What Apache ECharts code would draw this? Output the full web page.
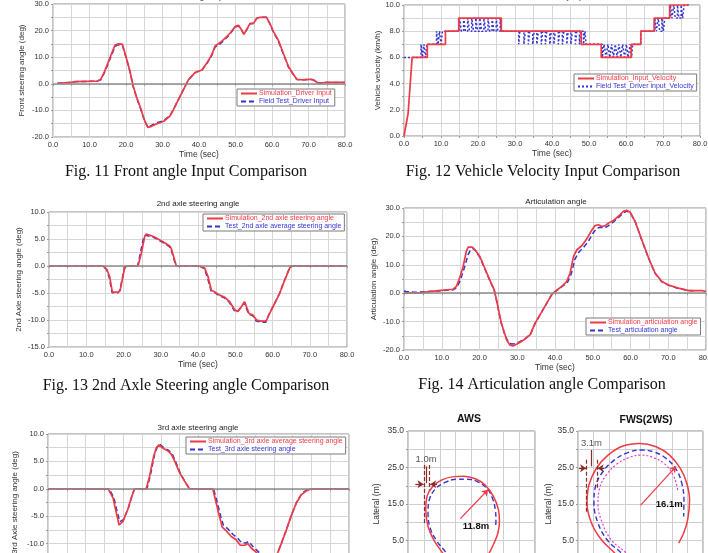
<!DOCTYPE html>
<html>
<head>
<meta charset="utf-8">
<script src="https://cdn.jsdelivr.net/npm/echarts@6/dist/echarts.min.js"></script>
<style>
html, body { margin: 0; padding: 0; background: #fff; overflow: hidden; }
#main { width: 708px; height: 553px; }
</style>
</head>
<body>
<div id="main"></div>
<script>
// Fig.11 front steering input [time, deg]
var frontSim = [[1.2,0.2],[5,0.5],[6,0.8],[12,1.0],[13,1.5],[14,4.2],[15,7.7],[16,11.2],[17,14.6],[17.5,15.2],[18,15.0],[19,14.9],[20,10.2],[21,5.2],[22,-1.0],[23,-5.4],[24,-9.1],[25,-13.5],[26,-16.4],[27,-16.0],[28,-15.3],[30.3,-14.1],[32,-12.2],[33,-9.7],[34.8,-4.7],[37.1,1.5],[38.9,4.2],[40.8,5.2],[42.1,7.7],[43.5,10.9],[44.4,14.2],[45.8,15.5],[47.1,17.1],[48.5,19.0],[49.9,21.5],[50.8,22.0],[51.7,20.2],[52.3,18.6],[53.1,20.5],[54,22.7],[54.9,22.7],[55.8,24.6],[56.7,25.0],[58.5,25.0],[59.4,22.7],[60.4,19.6],[61.7,16.5],[63.1,11.5],[64.5,6.5],[65.8,3.7],[66.8,1.7],[68.5,1.5],[70.4,1.7],[71.3,1.5],[72.7,0.2],[75,0.5],[80,0.5]];
var frontTest = [[1.2,0.2],[5,0.5],[6,0.8],[12,1.0],[13,1.4],[14,3.9],[15,7.2],[16,10.6],[17,14.0],[17.6,14.6],[18.2,14.6],[19,14.5],[20,10.0],[21,5.0],[22,-1.2],[23,-5.6],[24,-9.4],[25,-13.7],[26,-16.3],[27,-15.6],[28,-14.9],[30.3,-13.8],[32,-12.0],[33,-9.6],[34.8,-4.7],[37.1,1.5],[38.9,4.2],[40.8,5.2],[42.1,7.5],[43.5,10.6],[44.4,13.8],[45.8,15.0],[47.1,16.7],[48.5,18.7],[49.9,21.3],[50.8,21.8],[51.7,20.1],[52.3,18.6],[53.1,20.4],[54,22.6],[54.9,22.7],[55.8,24.6],[56.7,25.0],[58.5,25.0],[59.4,22.6],[60.4,19.4],[61.7,16.2],[63.1,11.2],[64.5,6.3],[65.8,3.6],[66.8,1.6],[68.5,1.5],[70.4,1.7],[71.3,1.5],[72.7,0.2],[75,0.5],[80,0.5]];

// Fig.12 vehicle velocity [time, km/h]
var velSim = [[0,0],[1.1,1.7],[2.2,6],[6.3,6],[6.3,7],[11.2,7],[11.2,8],[14.8,8],[14.8,9],[26.3,9],[26.3,8],[47.9,8],[47.9,7],[53.3,7],[53.3,6],[61.4,6],[61.4,7],[64,7],[64,8],[67.6,8],[67.6,9],[71.8,9],[71.8,10],[76.8,10]];
// test signal: [switch time, new level]
var velTest = [[0,6],[4.6,7],[5.0,6],[5.4,7],[5.8,6],[6.2,7],
  [8.8,8],[9.2,7],[9.6,8],[10.0,7],[10.4,8],
  [15.0,9],[15.5,8],[16.1,9],[16.6,8],[17.2,9],[17.7,8],[18.3,9],[18.8,8],[19.4,9],[19.9,8],[20.5,9],[21.0,8],[21.6,9],[22.1,8],[22.7,9],[23.2,8],[23.8,9],[24.3,8],[24.9,9],[25.4,8],[26.0,9],[26.3,8],
  [31.0,7],[31.3,8],[32.4,7],[32.8,8],[33.6,7],[34.0,8],[34.8,7],[35.2,8],[35.9,7],[36.3,8],[37.1,7],[37.5,8],[38.2,7],[38.6,8],[39.4,7],[39.8,8],[40.5,7],[40.9,8],[41.7,7],[42.1,8],[42.8,7],[43.2,8],[44.0,7],[44.4,8],[45.1,7],[45.5,8],[46.3,7],[46.7,8],[47.4,7],[47.8,8],[48.5,7],[48.9,8],[49.2,7],
  [53.6,6],[54.1,7],[54.6,6],[55.1,7],[55.6,6],[56.1,7],[56.6,6],[57.1,7],[57.6,6],[58.1,7],[58.6,6],[59.1,7],[59.6,6],[60.1,7],[60.6,6],[61.1,7],[61.5,6],[61.8,7],
  [64.0,8],[67.8,9],[68.2,8],[68.7,9],[69.1,8],[69.7,9],[70.1,8],[70.5,9],
  [72.0,10],[72.4,9],[72.9,10],[73.3,9],[73.9,10],[74.3,9],[74.9,10],[75.3,9],[75.7,10],[77.0,10]];

// Fig.13 2nd axle steering angle
var ax2Sim = [[0,0],[14.5,0],[15.5,-0.6],[16.3,-2],[17,-4.8],[18.5,-4.9],[19.1,-4.5],[20.3,-0.4],[20.8,0],[23.9,0],[24.8,2.4],[25.7,5.5],[26.1,5.9],[27.9,5.5],[30.6,4.5],[32.4,3.7],[32.8,3.3],[34.2,0],[40.4,0],[41.8,-0.4],[42.7,-2],[43.6,-4.5],[44.5,-4.8],[45.8,-5.4],[47.2,-5.8],[48.5,-6.6],[49.8,-8.1],[50.7,-8.4],[51.6,-7.6],[52.5,-6.6],[53.7,-8.8],[54.8,-9.1],[55.7,-10],[57,-10.2],[58.3,-10.2],[59.2,-8.8],[60.6,-6.9],[61.9,-5.1],[63.3,-2.6],[64.6,-0.4],[65,0],[80,0]];
var ax2Test = [[0,0],[14.5,0],[15.4,-0.6],[16.2,-2.2],[16.9,-4.9],[18.4,-5.0],[19.0,-4.6],[20.2,-0.5],[20.7,0],[23.8,0],[24.6,2.6],[25.4,5.3],[25.9,5.7],[27.8,5.4],[30.5,4.4],[32.3,3.6],[32.7,3.2],[34.1,0],[40.4,0],[41.7,-0.5],[42.6,-2.3],[43.5,-4.6],[44.4,-4.9],[45.7,-5.5],[47.1,-5.9],[48.4,-6.7],[49.7,-8.2],[50.6,-8.5],[51.5,-7.7],[52.4,-6.8],[53.6,-8.9],[54.7,-9.2],[55.6,-10.2],[56.9,-10.4],[58.2,-10.4],[59.1,-8.9],[60.5,-7.0],[61.8,-5.2],[63.2,-2.7],[64.5,-0.5],[64.9,0],[80,0]];

// Fig.14 articulation angle
var artSim = [[0,0],[0.5,0.1],[4.6,0.2],[9,0.9],[13,1.4],[13.9,2.4],[14.8,5.6],[15.7,9.6],[16.5,14.7],[17,16.2],[17.4,16.7],[18.1,16.2],[18.8,15.3],[20.1,12.9],[21.4,8.8],[22.7,4.7],[23.9,1.2],[24.5,-2.4],[25.8,-10.6],[27.2,-16.5],[28,-18.2],[28.9,-18.6],[30.3,-17.6],[32,-16.2],[33.4,-14.7],[34.7,-10.6],[36.5,-6.5],[37.8,-3.5],[39.1,-0.6],[40,0.6],[41.8,2.4],[43.1,4.1],[44,7.1],[44.9,12.9],[45.8,15.3],[47.1,16.7],[48.4,19.1],[49.7,22.1],[50.6,23.8],[51.5,24.1],[52.4,23.5],[53.3,23.8],[54.2,24.7],[55.5,25.6],[56.8,27.1],[58.1,28.8],[59,29.2],[59.9,28.5],[61.2,25.3],[63,18.8],[64.8,12.4],[66.5,7.1],[68.3,4.1],[70.1,2.9],[72.7,1.8],[75.4,0.9],[78.9,0.9],[80,0.6]];
var artTest = [[0,0.8],[0.6,0.6],[3,0.3],[9,0.8],[13,1.2],[14,2.0],[15,4.8],[16,9.0],[17,13.6],[17.6,15.2],[18.2,15.8],[18.8,15.2],[20.1,12.6],[21.4,8.6],[22.7,4.6],[23.9,1.0],[24.5,-2.4],[25.6,-9.8],[26.6,-14.2],[27.6,-17.2],[28.5,-17.9],[29.5,-17.8],[30.8,-17.0],[32.3,-15.8],[33.6,-14.3],[34.8,-10.4],[36.5,-6.6],[37.8,-3.6],[39.1,-0.5],[40,0.5],[41.8,2.3],[43.3,3.8],[44.3,6.8],[45.3,12.0],[46.3,14.4],[47.6,16.2],[48.8,18.2],[50.0,21.0],[51,22.8],[52,23.2],[53,22.9],[54,23.6],[55.2,24.8],[56.6,26.4],[58,28.2],[59,28.9],[60,28.2],[61.3,25.0],[63,18.6],[64.8,12.2],[66.5,7.0],[68.3,4.0],[70.1,2.8],[72.7,1.6],[75.4,1.0],[77.6,0.8]];

// Fig.15 3rd axle steering angle
var ax3Sim = [[0,0],[16,0],[17.3,-1.7],[18.2,-4.5],[18.9,-6.6],[19.2,-6.8],[19.9,-6.0],[21.3,-3.6],[22.1,-1.7],[23,0],[26.1,0],[27,2.3],[28.1,6.0],[28.8,7.5],[29.5,8.0],[30.6,7.4],[31.9,6.9],[32.8,6.3],[33.7,5.0],[35,2.9],[36.3,1.4],[37.6,0],[43.8,0],[44.7,-2.6],[45.6,-5.1],[46.3,-7.0],[47.4,-7.7],[48.7,-8.7],[50,-9.3],[51.1,-10.3],[52.3,-10.3],[53.1,-10.0],[54,-10.8],[55.4,-11.6],[56.2,-12.2],[57.5,-12.9],[58.8,-13.3],[60,-12.8],[61.1,-11.6],[62,-10.0],[63.3,-7.6],[64.7,-4.8],[66,-2.6],[67.3,-1.1],[68.6,-0.4],[70,0],[80,0]];
var ax3Test = [[0,0],[16.2,0],[17.5,-1.6],[18.4,-4.2],[19.1,-6.0],[19.5,-6.2],[20.1,-5.6],[21.4,-3.4],[22.2,-1.6],[23,0],[26.3,0],[27.2,2.4],[28.3,6.2],[29.1,7.7],[29.7,8.1],[30.8,7.5],[32.1,7.0],[33.0,6.4],[33.9,5.0],[35.2,2.8],[36.5,1.2],[37.6,0],[44.0,0],[45.0,-2.5],[45.9,-5.0],[46.6,-6.6],[47.8,-7.3],[49.1,-8.3],[50.4,-9.0],[51.5,-9.9],[52.5,-9.9],[53.4,-9.6],[54.4,-10.5],[55.8,-11.4],[56.6,-12.0],[57.9,-12.7],[59.1,-13.1],[60.2,-12.6],[61.2,-11.4],[62.1,-9.8],[63.4,-7.4],[64.8,-4.6],[66.1,-2.4],[67.4,-0.9],[68.7,-0.2],[70,0],[80,0]];

// turning paths [longitudinal m, lateral m]
var awsSim = [[12.5,0],[10.9,1.6],[8.1,5.2],[6.3,8.9],[5.6,13.4],[6.0,17.1],[7.8,19.8],[10.7,21.6],[14.4,22.5],[17.5,22.6],[21.2,21.9],[24.3,20.2],[26.9,17.1],[28.5,13.4],[28.8,10.2],[28.3,7.0],[26.9,3.9],[25.6,1.6],[24.2,-0.5]];
var awsTest = [[13.2,0],[11.7,2.0],[9.1,4.8],[7.0,8.4],[6.3,12.5],[6.7,16.1],[8.6,19.1],[11.7,20.9],[15.4,21.8],[18.6,21.8],[21.7,21.2],[24.8,19.3],[26.6,16.6],[27.5,13.4],[27.7,10.2],[27.5,8.4]];
var fwsSim = [[13.2,0],[11.7,1.6],[7.5,5.2],[4.3,9.8],[2.9,15.2],[3.5,20.2],[5.9,24.8],[9.6,28.4],[14.4,30.9],[19.7,31.6],[25.0,30.7],[29.3,28.4],[32.7,24.8],[34.8,20.7],[35.7,16.1],[35.1,10.7],[33.8,7.0],[32.2,4.3]];
var fwsTest = [[15.4,0],[13.8,1.6],[9.3,5.2],[6.4,9.8],[5.1,15.2],[5.6,19.8],[8.0,23.9],[11.7,27.1],[16.0,29.1],[20.2,29.8],[24.5,29.2],[28.2,27.5],[31.4,24.5],[33.2,20.7],[33.9,16.1],[33.8,11.6]];
var fwsDot = [[17.0,0],[15.4,1.6],[10.6,5.2],[7.8,9.8],[6.4,14.8],[6.9,19.3],[9.1,23.0],[12.5,26.0],[16.5,27.8],[20.2,28.4],[23.9,27.8],[27.7,26.0],[30.4,23.0],[31.7,19.8],[31.9,18.4]];

var FONT = '"Liberation Sans", Arial, sans-serif';
var RED = '#ee3a44', BLUE = '#3434d0', PINK = '#ee38c8', DIM = '#8e2a2a';

var myChart = echarts.init(document.getElementById('main'));

function fmt1(v) { return v.toFixed(1); }

function axis(gi, min, max, step, minor, extra) {
	var a = {
		type : 'value',
		gridIndex : gi,
		min : min,
		max : max,
		interval : step,
		axisLine : { show : false },
		axisTick : { show : true, length : 2, lineStyle : { color : '#999' } },
		axisLabel : { fontSize : 7.5, fontFamily : FONT, color : '#333', margin : 4, formatter : fmt1,
			hideOverlap : false },
		splitLine : { lineStyle : { color : '#d6d6d6' } },
		minorTick : { show : minor > 1, splitNumber : minor || 1, length : 2, lineStyle : { color : '#999' } },
		minorSplitLine : { show : minor > 1, lineStyle : { color : '#d6d6d6' } },
		nameLocation : 'middle',
		nameTextStyle : { fontSize : 8, fontFamily : FONT, color : '#333' }
	};
	for (var k in extra) a[k] = extra[k];
	return a;
}

function timeAxis(gi, gap) {
	return axis(gi, 0, 80, 10, 2, { name : 'Time (sec)', nameGap : gap,
		nameTextStyle : { fontSize : 8.5, fontFamily : FONT, color : '#333' } });
}

function grid(l, t, w, h) {
	return { left : l, top : t, width : w, height : h, show : true, outerBoundsMode : 'none',
		containLabel : false, borderColor : '#8a8a8a', borderWidth : 1, backgroundColor : '#fff' };
}

var zeroLine = {
	silent : true, symbol : [ 'none', 'none' ], animation : false,
	label : { show : false },
	lineStyle : { color : '#8c8c8c', width : 1.5, type : 'solid' },
	data : [ { yAxis : 0 } ]
};

function sim(name, data, gi, withZero) {
	var s = { name : name, type : 'line', data : data, xAxisIndex : gi, yAxisIndex : gi,
		showSymbol : false, symbol : 'none', z : 4,
		lineStyle : { color : RED, width : 1.7 }, itemStyle : { color : RED } };
	if (withZero) s.markLine = zeroLine;
	return s;
}
function test(name, data, gi, dash) {
	return { name : name, type : 'line', data : data, xAxisIndex : gi, yAxisIndex : gi,
		showSymbol : false, symbol : 'none', z : 3,
		lineStyle : { color : BLUE, width : 1.5, type : dash || [ 5, 3 ] }, itemStyle : { color : BLUE } };
}

function legendBox(names, left, top) {
	return {
		data : [ { name : names[0], textStyle : { color : RED } },
			{ name : names[1], textStyle : { color : BLUE } } ],
		orient : 'vertical', left : left, top : top,
		itemWidth : 16, itemHeight : 6, itemGap : 1,
		padding : [ 1, 3, 1, 3 ],
		itemStyle : { opacity : 0 },
		borderColor : '#7a7a7a', borderWidth : 1, backgroundColor : '#fff',
		textStyle : { fontSize : 7, fontFamily : FONT, padding : [ 0, 0, 0, -3 ] },
		selectedMode : false
	};
}

function txt(s, x, y, font, fill) {
	return { type : 'text', x : x, y : y, silent : true,
		style : { text : s, font : font, fill : fill || '#222', textAlign : 'center', textVerticalAlign : 'middle' } };
}

// dimension marks (data coords)
function seg(a, b, color, dash, arrow) {
	return [ { coord : a, symbol : 'none', lineStyle : { color : color, width : 1.2, type : dash } },
		{ coord : b, symbol : arrow ? 'arrow' : 'none', symbolSize : arrow ? 6 : 0 } ];
}

var SERIF = '16px "Liberation Serif", "Times New Roman", serif';
var SMALL = '8px ' + FONT;
var latLabel = { fontSize : 8.5, fontFamily : FONT, color : '#333', margin : 4, formatter : fmt1 };

option = {
	animation : false,
	backgroundColor : '#fff',
	grid : [ grid(53, 4, 292, 133), grid(404, 5, 296, 131), grid(49, 212, 298, 135),
		grid(404, 208, 302, 142), grid(48, 434, 301, 137), grid(408, 431, 127, 146),
		grid(578, 431, 125, 146) ],
	xAxis : [ timeAxis(0, 12), timeAxis(1, 12), timeAxis(2, 13), timeAxis(3, 13), timeAxis(4, 13),
		axis(5, 0, 40, 5, 0, { axisLabel : { show : false }, splitLine : { lineStyle : { color : '#cfcfcf' } } }),
		axis(6, 0, 40, 5, 0, { axisLabel : { show : false }, splitLine : { lineStyle : { color : '#cfcfcf' } } }) ],
	yAxis : [
		axis(0, -20, 30, 10, 2, { name : 'Front steering angle (deg)', nameGap : 27 }),
		axis(1, 0, 10, 2, 2, { name : 'Vehicle velocity (km/h)', nameGap : 21 }),
		axis(2, -15, 10, 5, 2, { name : '2nd Axle steering angle (deg)', nameGap : 26 }),
		axis(3, -20, 30, 10, 2, { name : 'Articulation angle (deg)', nameGap : 26 }),
		axis(4, -15, 10, 5, 2, { name : '3rd Axle steering angle (deg)', nameGap : 29 }),
		axis(5, -5, 35, 10, 2, { name : 'Lateral (m)', nameGap : 27, axisLabel : latLabel,
			nameTextStyle : { fontSize : 8.5, fontFamily : FONT, color : '#333' },
			splitLine : { lineStyle : { color : '#cfcfcf' } }, minorSplitLine : { show : true, lineStyle : { color : '#cfcfcf' } } }),
		axis(6, -5, 35, 10, 2, { name : 'Lateral (m)', nameGap : 23, axisLabel : latLabel,
			nameTextStyle : { fontSize : 8.5, fontFamily : FONT, color : '#333' },
			splitLine : { lineStyle : { color : '#cfcfcf' } }, minorSplitLine : { show : true, lineStyle : { color : '#cfcfcf' } } })
	],
	legend : [
		legendBox([ 'Simulation_Driver Input', 'Field Test_Driver Input' ], 237, 89),
		legendBox([ 'Simulation_Input_Velocity', 'Field Test_Driver input_Velocity' ], 574, 74),
		legendBox([ 'Simulation_2nd axle steering angle', 'Test_2nd axle average steering angle' ], 203, 214),
		legendBox([ 'Simulation_articulation angle', 'Test_articulation angle' ], 586, 318),
		legendBox([ 'Simulation_3rd axle average steering angle', 'Test_3rd axle steering angle' ], 186, 437)
	],
	graphic : [
		txt('Front angle input', 200, -3, SMALL),
		txt('Vehicle velocity input', 553, -3, SMALL),
		txt('2nd axle steering angle', 198, 204, SMALL),
		txt('Articulation angle', 556, 202, SMALL),
		txt('3rd axle steering angle', 198, 428, SMALL),
		txt('AWS', 469, 419, 'bold 10.5px ' + FONT, '#111'),
		txt('FWS(2WS)', 646, 420, 'bold 10.5px ' + FONT, '#111'),
		txt('Fig. 11 Front angle Input Comparison', 186, 172, SERIF, '#111'),
		txt('Fig. 12 Vehicle Velocity Input Comparison', 543, 172, SERIF, '#111'),
		txt('Fig. 13 2nd Axle Steering angle Comparison', 186, 386, SERIF, '#111'),
		txt('Fig. 14 Articulation angle Comparison', 542, 385, SERIF, '#111')
	],
	series : [
		test('Field Test_Driver Input', frontTest, 0),
		sim('Simulation_Driver Input', frontSim, 0, true),
		test('Field Test_Driver input_Velocity', velTest, 1, [ 2, 2 ]),
		sim('Simulation_Input_Velocity', velSim, 1, false),
		test('Test_2nd axle average steering angle', ax2Test, 2),
		sim('Simulation_2nd axle steering angle', ax2Sim, 2, true),
		test('Test_articulation angle', artTest, 3),
		sim('Simulation_articulation angle', artSim, 3, true),
		test('Test_3rd axle steering angle', ax3Test, 4),
		sim('Simulation_3rd axle average steering angle', ax3Sim, 4, true),
		{
			name : 'AWS test', type : 'line', data : awsTest, xAxisIndex : 5, yAxisIndex : 5,
			showSymbol : false, symbol : 'none', smooth : 0.4,
			lineStyle : { color : BLUE, width : 1.4, type : [ 5, 3 ] }
		},
		{
			name : 'AWS sim', type : 'line', data : awsSim, xAxisIndex : 5, yAxisIndex : 5,
			showSymbol : false, symbol : 'none', smooth : 0.4,
			lineStyle : { color : RED, width : 1.5 },
			markLine : {
				silent : true, animation : false, label : { show : false },
				data : [
					seg([ 16.5, 11.0 ], [ 25.2, 18.9 ], RED, 'solid', true),
					seg([ 5.2, 25.7 ], [ 5.2, 9.3 ], DIM, [ 4, 2 ]),
					seg([ 6.7, 25.7 ], [ 6.7, 18.9 ], DIM, [ 4, 2 ]),
					seg([ 5.9, 25.3 ], [ 5.9, 20.7 ], DIM, 'solid'),
					seg([ 2.3, 20.4 ], [ 4.9, 20.4 ], DIM, 'solid', true),
					seg([ 9.1, 20.4 ], [ 7.0, 20.4 ], DIM, 'solid', true)
				]
			},
			markPoint : {
				silent : true, symbol : 'circle', symbolSize : 0, animation : false,
				data : [
					{ name : '11.8m', coord : [ 21.4, 9.0 ], label : { show : true, formatter : '{b}', position : 'inside', fontSize : 9.5, fontWeight : 'bold', fontFamily : FONT, color : '#111' } },
					{ name : '1.0m', coord : [ 5.7, 27.3 ], label : { show : true, formatter : '{b}', position : 'inside', fontSize : 9.5, fontFamily : FONT, color : '#555' } }
				]
			}
		},
		{
			name : 'FWS dot', type : 'line', data : fwsDot, xAxisIndex : 6, yAxisIndex : 6,
			showSymbol : false, symbol : 'none', smooth : 0.4,
			lineStyle : { color : PINK, width : 1.2, type : [ 2, 2 ] }
		},
		{
			name : 'FWS test', type : 'line', data : fwsTest, xAxisIndex : 6, yAxisIndex : 6,
			showSymbol : false, symbol : 'none', smooth : 0.4,
			lineStyle : { color : BLUE, width : 1.4, type : [ 5, 3 ] }
		},
		{
			name : 'FWS sim', type : 'line', data : fwsSim, xAxisIndex : 6, yAxisIndex : 6,
			showSymbol : false, symbol : 'none', smooth : 0.4,
			lineStyle : { color : RED, width : 1.5 },
			markLine : {
				silent : true, animation : false, label : { show : false },
				data : [
					seg([ 20.0, 14.6 ], [ 31.4, 25.3 ], RED, 'solid', true),
					seg([ 2.7, 27.1 ], [ 2.7, 12.5 ], DIM, [ 4, 2 ]),
					seg([ 6.2, 27.1 ], [ 6.2, 18.9 ], DIM, [ 4, 2 ]),
					seg([ 4.3, 29.8 ], [ 4.3, 25.3 ], DIM, 'solid'),
					seg([ 0.3, 24.8 ], [ 2.6, 24.8 ], DIM, 'solid', true),
					seg([ 8.5, 24.8 ], [ 6.3, 24.8 ], DIM, 'solid', true)
				]
			},
			markPoint : {
				silent : true, symbol : 'circle', symbolSize : 0, animation : false,
				data : [
					{ name : '16.1m', coord : [ 29.2, 14.8 ], label : { show : true, formatter : '{b}', position : 'inside', fontSize : 9.5, fontWeight : 'bold', fontFamily : FONT, color : '#111' } },
					{ name : '3.1m', coord : [ 4.3, 31.6 ], label : { show : true, formatter : '{b}', position : 'inside', fontSize : 9.5, fontFamily : FONT, color : '#555' } }
				]
			}
		}
	]
};

// velocity test is a switching signal
option.series[2].step = 'end';

myChart.setOption(option);
</script>
</body>
</html>
